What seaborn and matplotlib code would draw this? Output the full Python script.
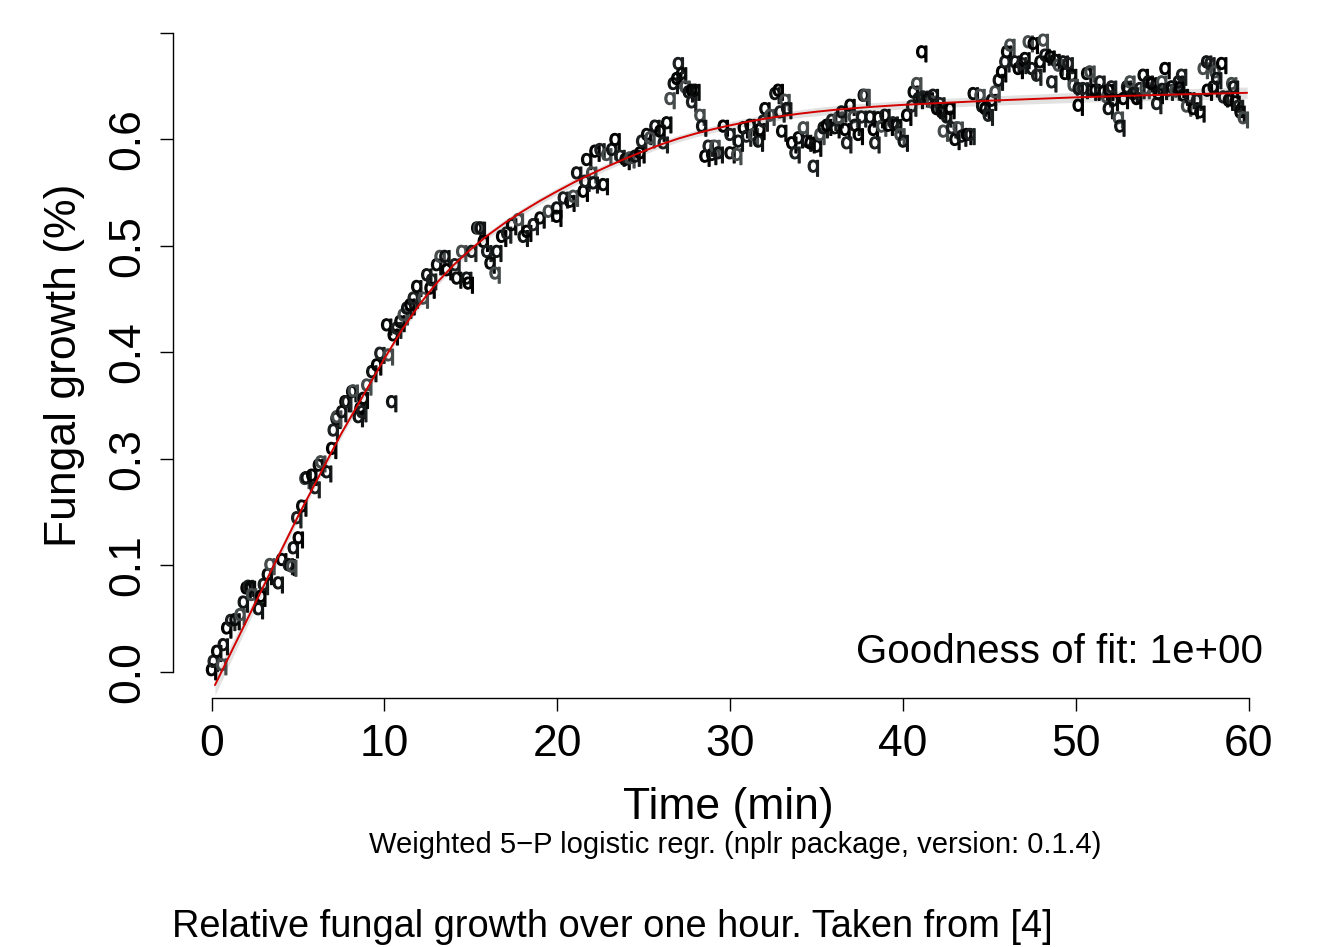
import numpy as np
import pandas as pd
import matplotlib
matplotlib.use("Agg")
import matplotlib.pyplot as plt
import seaborn as sns

# measured growth (time in min, relative growth)
time_min = [
    0.0, 0.1, 0.3, 0.59, 0.68, 0.88, 1.11, 1.36, 1.65, 1.84, 2.0, 2.13, 2.25, 2.32,
    2.71, 2.85, 3.0, 3.23, 3.38, 3.86, 4.06, 4.44, 4.55, 4.64, 4.73, 5.02, 4.93,
    5.22, 5.4, 5.47, 5.8, 5.99, 6.18, 6.32, 6.66, 6.95, 7.04, 7.2, 7.24, 7.53,
    7.72, 7.82, 8.11, 8.2, 8.49, 8.59, 8.69, 8.78, 8.98, 9.27, 9.55, 9.74, 10.13,
    10.23, 10.42, 10.51, 10.71, 10.9, 11.09, 11.29, 11.48, 11.67, 11.87, 12.25,
    12.45, 12.64, 12.73, 13.02, 13.22, 13.5, 13.6, 14.08, 14.18, 14.47, 14.76,
    14.85, 15.05, 15.34, 15.45, 15.55, 15.72, 15.92, 16.11, 16.4, 16.5, 16.78,
    17.07, 17.36, 17.75, 18.03, 18.23, 18.61, 19.0, 19.48, 19.97, 19.97, 20.35,
    20.73, 20.93, 21.12, 21.5, 21.6, 21.7, 21.99, 22.08, 22.18, 22.47, 22.66,
    22.86, 23.15, 23.34, 23.63, 23.92, 24.2, 24.5, 24.78, 24.88, 25.17, 25.36,
    25.65, 25.94, 26.13, 26.33, 26.52, 26.71, 26.91, 27.0, 27.19, 27.39, 27.58,
    27.77, 27.77, 27.96, 28.25, 28.35, 28.54, 28.73, 28.93, 29.12, 29.31, 29.6,
    29.99, 29.99, 30.38, 30.47, 30.76, 30.95, 31.15, 31.34, 31.63, 31.72, 31.91,
    32.01, 32.3, 32.59, 32.78, 32.88, 32.98, 33.17, 33.27, 33.56, 33.75, 33.94,
    34.23, 34.42, 34.62, 34.81, 35.0, 35.19, 35.38, 35.58, 35.87, 36.06, 36.25,
    36.45, 36.64, 36.74, 36.93, 37.12, 37.22, 37.41, 37.6, 37.7, 37.8, 38.09,
    38.28, 38.37, 38.57, 38.76, 38.95, 39.14, 39.43, 39.63, 39.82, 40.01, 40.21,
    40.5, 40.59, 40.79, 40.88, 41.08, 41.17, 41.46, 41.65, 41.75, 41.94, 42.13,
    42.23, 42.33, 42.52, 42.71, 42.81, 43.0, 43.19, 43.39, 43.68, 43.87, 44.06,
    44.45, 44.55, 44.74, 44.93, 45.12, 45.32, 45.51, 45.7, 45.89, 45.99, 46.18,
    46.47, 46.66, 46.86, 47.05, 47.24, 47.44, 47.53, 47.73, 47.92, 48.11, 48.21,
    48.5, 48.6, 48.79, 48.98, 49.27, 49.37, 49.55, 49.75, 49.84, 50.13, 50.13,
    50.42, 50.62, 50.81, 50.9, 51.1, 51.39, 51.58, 51.77, 51.87, 51.9, 52.06,
    52.16, 52.45, 52.54, 52.74, 52.93, 53.0, 53.12, 53.31, 53.51, 53.7, 53.89,
    54.0, 54.18, 54.38, 54.67, 54.76, 54.96, 55.0, 55.15, 55.34, 55.53, 55.73,
    55.92, 56.0, 56.11, 56.21, 56.4, 56.59, 56.78, 56.98, 57.17, 57.36, 57.56,
    57.6, 57.75, 57.94, 58.04, 58.14, 58.43, 58.53, 58.82, 59.01, 59.11, 59.2,
    59.4, 59.49, 59.68,
]
growth = [
    0.0, 0.010, 0.022, 0.006, 0.030, 0.050, 0.059, 0.060, 0.066, 0.081, 0.098, 0.100, 0.099, 0.090,
    0.073, 0.088, 0.102, 0.114, 0.126, 0.104, 0.132, 0.126, 0.125, 0.124, 0.146, 0.158, 0.182,
    0.196, 0.229, 0.230, 0.233, 0.218, 0.245, 0.249, 0.237, 0.265, 0.287, 0.301, 0.303, 0.309,
    0.321, 0.321, 0.333, 0.334, 0.303, 0.313, 0.309, 0.325, 0.341, 0.357, 0.365, 0.379, 0.413,
    0.377, 0.321, 0.401, 0.409, 0.417, 0.425, 0.433, 0.437, 0.445, 0.459, 0.445,
    0.473, 0.457, 0.467, 0.485, 0.495, 0.495, 0.479, 0.485, 0.469, 0.501, 0.469,
    0.463, 0.501, 0.529, 0.529, 0.529, 0.513, 0.501, 0.487, 0.475, 0.501, 0.519,
    0.523, 0.533, 0.539, 0.519, 0.525, 0.533, 0.541, 0.549, 0.553, 0.543, 0.565,
    0.561, 0.567, 0.595, 0.573, 0.585, 0.611, 0.595, 0.583, 0.621, 0.623, 0.581,
    0.617, 0.623, 0.635, 0.615, 0.611, 0.613, 0.615, 0.619, 0.633, 0.641, 0.637,
    0.651, 0.645, 0.631, 0.655, 0.684, 0.702, 0.708, 0.726, 0.714, 0.698, 0.692,
    0.694, 0.680, 0.694, 0.664, 0.651, 0.615, 0.627, 0.617, 0.627, 0.619, 0.651,
    0.641, 0.619, 0.617, 0.633, 0.649, 0.639, 0.652, 0.641, 0.633, 0.647, 0.657,
    0.672, 0.664, 0.690, 0.694, 0.668, 0.645, 0.682, 0.672, 0.631, 0.619, 0.637,
    0.649, 0.633, 0.631, 0.603, 0.627, 0.641, 0.649, 0.652, 0.658, 0.649, 0.661,
    0.668, 0.647, 0.631, 0.676, 0.662, 0.652, 0.641, 0.662, 0.688, 0.688, 0.662,
    0.647, 0.631, 0.661, 0.651, 0.664, 0.652, 0.655, 0.652, 0.641, 0.633, 0.664,
    0.675, 0.692, 0.702, 0.684, 0.740, 0.686, 0.684, 0.680, 0.688, 0.672, 0.678,
    0.668, 0.645, 0.662, 0.672, 0.649, 0.635, 0.649, 0.639, 0.641, 0.641, 0.690,
    0.688, 0.675, 0.672, 0.664, 0.682, 0.692, 0.706, 0.716, 0.728, 0.740, 0.748,
    0.728, 0.720, 0.726, 0.732, 0.752, 0.720, 0.750, 0.712, 0.728, 0.754, 0.736,
    0.734, 0.704, 0.730, 0.724, 0.728, 0.714, 0.726, 0.712, 0.700, 0.696, 0.676,
    0.696, 0.714, 0.716, 0.694, 0.694, 0.704, 0.692, 0.686, 0.672, 0.694, 0.698,
    0.682, 0.661, 0.651, 0.684, 0.698, 0.695, 0.704, 0.690, 0.684, 0.696, 0.712,
    0.696, 0.704, 0.702, 0.678, 0.690, 0.704, 0.695, 0.720, 0.694, 0.698, 0.694,
    0.704, 0.697, 0.712, 0.688, 0.675, 0.684, 0.672, 0.682, 0.668, 0.720, 0.728,
    0.694, 0.726, 0.698, 0.716, 0.708, 0.726, 0.686, 0.682, 0.702, 0.698, 0.680,
    0.675, 0.668, 0.661,
]

# fitted curve, with its band half width
fit_x = [0.2, 2.5, 5.0, 7.5, 10, 11, 12, 13, 14, 15, 16, 17, 18, 19, 20, 21, 22,
         23, 24, 25, 26, 27, 28, 29, 30, 31, 32, 33, 34, 35, 36, 37, 38, 39, 40,
         45, 50, 55, 59.9]
fit_y = [-0.016, 0.081, 0.186, 0.285, 0.375, 0.409, 0.439, 0.465, 0.487, 0.506,
         0.523, 0.538, 0.5515, 0.564, 0.5755, 0.5865, 0.5965, 0.606, 0.615, 0.6235,
         0.6315, 0.6385, 0.6445, 0.6497, 0.6544, 0.6586, 0.6623, 0.6655, 0.6683,
         0.6707, 0.6728, 0.6746, 0.6762, 0.6776, 0.6789, 0.6839, 0.6879, 0.6909,
         0.6933]
fit_band = [0.012, 0.007, 0.005, 0.0045, 0.004, 0.004, 0.004, 0.004, 0.004, 0.004,
            0.004, 0.004, 0.004, 0.004, 0.004, 0.004, 0.004, 0.004, 0.004, 0.004,
            0.004, 0.004, 0.004, 0.004, 0.0045, 0.0045, 0.0045, 0.0045, 0.0045,
            0.005, 0.005, 0.005, 0.005, 0.005, 0.005, 0.0055, 0.006, 0.0065, 0.007]

y_ticks = [0, 0.1275, 0.255, 0.3825, 0.51, 0.6375, 0.765]
y_labels = ["0.0", "0.1", "0.3", "0.4", "0.5", "0.6", ""]
x_ticks = [0, 10, 20, 30, 40, 50, 60]

sns.set_style("ticks")
plt.rcParams["font.family"] = ["Liberation Sans", "DejaVu Sans"]
plt.rcParams["text.color"] = "black"
plt.rcParams["axes.labelcolor"] = "black"

df = pd.DataFrame({"time": time_min, "growth": growth})
df["shade"] = np.arange(len(df)) % 5
greys = ["#000000", "#1b1f1f", "#080a0a", "#454a4a", "#111414"]

fig = plt.figure(figsize=(13.29, 9.47), dpi=100)
ax = fig.add_axes([0.1298, 0.2629, 0.8359, 0.7023])

fx = np.array(fit_x)
fy = np.array(fit_y)
fb = np.array(fit_band)
ax.fill_between(fx, fy - fb, fy + fb, color="#e2e2e2", lw=0, zorder=1)

sns.scatterplot(data=df, x="time", y="growth", hue="shade", palette=greys,
                marker="$\\mathsf{q}$", s=135, linewidth=0.9, edgecolor="face",
                legend=False, ax=ax, zorder=2)

sns.lineplot(x=fit_x, y=fit_y, color="#d40000", lw=1.4, ax=ax, zorder=3,
             sort=False)

ax.set_xlim(-2.256, 62.0)
ax.set_ylim(-0.0315, 0.765)
ax.set_xticks(x_ticks)
ax.set_xticklabels([str(t) for t in x_ticks])
ax.set_yticks(y_ticks)
ax.set_yticklabels(y_labels, rotation=90, va="center")
ax.tick_params(axis="both", direction="out", length=9.4, width=1.0,
               labelsize=32, color="black", labelcolor="black")
ax.tick_params(axis="x", pad=9)
ax.tick_params(axis="y", pad=8)

for side in ["top", "right"]:
    ax.spines[side].set_visible(False)
ax.spines["left"].set_bounds(0, 0.765)
ax.spines["bottom"].set_bounds(0, 60)
for side in ["left", "bottom"]:
    ax.spines[side].set_linewidth(1.0)
    ax.spines[side].set_color("black")

ax.set_xlabel("Time (min)", fontsize=32, labelpad=16)
ax.set_ylabel("Fungal growth (%)", fontsize=32, labelpad=16)

ax.text(60.8, 0.0104, "Goodness of fit: 1e+00", fontsize=29, ha="right",
        va="baseline")

fig.text(0.5535, 1 - 845 / 947, "Weighted 5\u2212P logistic regr. (nplr package, version: 0.1.4)",
         fontsize=21, ha="center", va="center")
fig.text(172 / 1329, 1 - 927 / 947, "Relative fungal growth over one hour. Taken from [4]",
         fontsize=27.4, ha="left", va="center")

fig.savefig("out.png", dpi=100)
